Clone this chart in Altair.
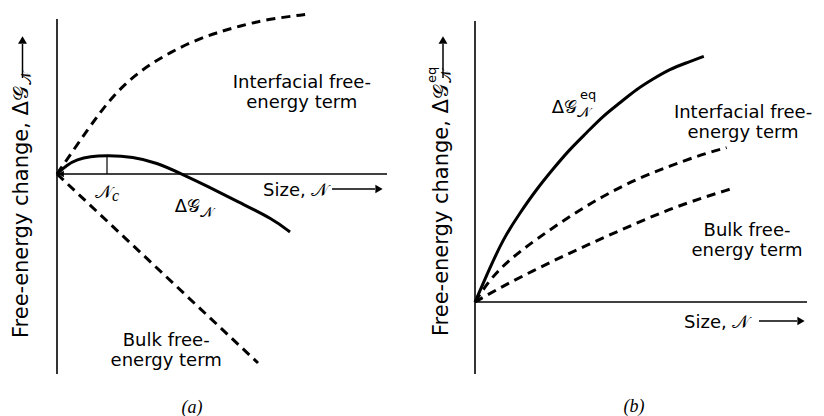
import altair as alt
import pandas as pd

# ---------------- Panel (a): nucleation (units: size, free energy) ----------------
a_interf_x = [0, 0.367, 0.742, 1.075, 1.408, 1.825, 2.325, 2.825, 3.408, 3.992, 4.575, 5.242, 6.242]
a_interf_y = [0, 0.533, 1.075, 1.533, 1.95, 2.367, 2.742, 3.033, 3.325, 3.533, 3.7, 3.867, 3.992]
a_bulk_x = [0, 5.025]
a_bulk_y = [0, -4.725]
a_total_x = [0, 0.25, 0.5, 0.825, 1.25, 1.9, 2.5, 3.075, 3.75, 4.575, 5.4, 5.825]
a_total_y = [0, 0.23, 0.36, 0.44, 0.465, 0.43, 0.28, 0.02, -0.3, -0.72, -1.125, -1.45]
a_nc = 1.25

# ---------------- Panel (b): equilibrium ----------------
b_total_x = [0, 0.29, 0.7, 1.125, 1.54, 1.95, 2.375, 2.79, 3.2, 3.625, 4.04, 4.45, 4.875, 5.29, 5.72]
b_total_y = [0, 0.67, 1.575, 2.23, 2.82, 3.325, 3.825, 4.23, 4.65, 4.98, 5.32, 5.575, 5.825, 5.98, 6.14]
b_interf_x = [0, 0.375, 0.875, 1.54, 2.375, 3.2, 4.04, 4.875, 5.7, 6.29]
b_interf_y = [0, 0.575, 1.075, 1.575, 2.15, 2.65, 3.075, 3.4, 3.7, 3.86]
b_bulk_x = [0, 0.7, 1.54, 2.375, 3.2, 4.04, 4.875, 5.7, 6.375]
b_bulk_y = [0, 0.4, 0.825, 1.23, 1.6, 1.975, 2.325, 2.61, 2.82]

# text
y_title = "Free-energy change, Δ𝒢"
sub_N = "𝒩"
x_title = "Size, 𝒩"
interf_label = "Interfacial free-\nenergy term"
bulk_label = "Bulk free-\nenergy term"
dG = "Δ𝒢"
sup_eq = "eq"
sub_c = "c"
panel_labels = ["(a)", "(b)"]

# layout of each panel (data-unit windows)
A_X = [-1.225, 8.775]
A_Y = [-6.0, 4.0]
B_X = [-1.675, 8.525]
B_Y = [-2.8, 7.2]
PW_A, PW_B, PH = 400, 408, 400

SANS = "DejaVu Sans"
SERIF = "Liberation Serif"


def enc(xd, yd):
    return dict(
        x=alt.X("x:Q", scale=alt.Scale(domain=xd, nice=False, zero=False), axis=None),
        y=alt.Y("y:Q", scale=alt.Scale(domain=yd, nice=False, zero=False), axis=None),
    )


def curve(xs, ys, xd, yd, dash=None, width=3.0):
    df = pd.DataFrame({"x": xs, "y": ys, "i": range(len(xs))})
    kw = dict(color="black", strokeWidth=width, interpolate="basis")
    if dash:
        kw["strokeDash"] = dash
    return alt.Chart(df).mark_line(**kw).encode(order="i:Q", **enc(xd, yd))


def seg(x1, y1, x2, y2, xd, yd, width=1.6):
    df = pd.DataFrame({"x": [x1], "y": [y1], "x2": [x2], "y2": [y2]})
    return alt.Chart(df).mark_rule(color="black", strokeWidth=width).encode(
        x2="x2:Q", y2="y2:Q", **enc(xd, yd))


def pt(x, y, shape, size, xd, yd):
    df = pd.DataFrame({"x": [x], "y": [y]})
    return alt.Chart(df).mark_point(shape=shape, size=size, filled=True, color="black",
                                    opacity=1, strokeWidth=0).encode(**enc(xd, yd))


def txt(x, y, t, xd, yd, size=18, align="left", angle=0, font=SANS, style="normal",
        baseline="alphabetic", line_height=None):
    df = pd.DataFrame({"x": [x], "y": [y], "t": [t]})
    kw = dict(align=align, baseline=baseline, fontSize=size, font=font, color="black",
              fontStyle=style)
    if angle:
        kw["angle"] = angle
    if line_height:
        kw["lineBreak"] = "\n"
        kw["lineHeight"] = line_height
    return alt.Chart(df).mark_text(**kw).encode(text="t:N", **enc(xd, yd))


# ---------------- build panel (a) ----------------
xa, ya = A_X, A_Y
pa = [
    seg(0, 3.875, 0, -5.0, xa, ya),
    seg(0, 0, 8.25, 0, xa, ya),
    curve(a_interf_x, a_interf_y, xa, ya, dash=[9, 6]),
    curve(a_bulk_x, a_bulk_y, xa, ya, dash=[9, 6]),
    curve(a_total_x, a_total_y, xa, ya),
    seg(a_nc, 0, a_nc, 0.465, xa, ya, width=1.2),
    pt(0.1, 0, "triangle-left", 45, xa, ya),
    txt(6.12, 2.15, interf_label, xa, ya, align="center", line_height=19.5),
    txt(2.73, -4.3, bulk_label, xa, ya, align="center", line_height=19.5),
    txt(5.15, -0.55, x_title, xa, ya),
    seg(6.875, -0.375, 7.95, -0.375, xa, ya, width=1.5),
    pt(8.05, -0.375, "triangle-right", 70, xa, ya),
    txt(3.575, -0.95, dG, xa, ya, align="right"),
    txt(3.575, -1.075, sub_N, xa, ya, size=14),
    txt(1.375, -0.6, sub_N, xa, ya, align="right"),
    txt(1.375, -0.675, sub_c, xa, ya, size=16, font=SERIF, style="italic"),
    txt(3.375, -5.85, panel_labels[0], xa, ya, size=18, align="center", font=SERIF,
        style="italic", baseline="middle"),
    txt(-0.725, 2.2, y_title, xa, ya, size=21, align="right", angle=270),
    txt(-0.65, 2.225, sub_N, xa, ya, size=14, angle=270),
    seg(-0.8625, 2.4, -0.8625, 3.25, xa, ya, width=1.5),
    pt(-0.8625, 3.35, "triangle-up", 80, xa, ya),
]
panel_a = alt.layer(*pa).properties(width=PW_A, height=PH)

# ---------------- build panel (b) ----------------
xb, yb = B_X, B_Y
pb = [
    seg(0, 7.025, 0, -1.8, xb, yb),
    seg(0, 0, 8.3, 0, xb, yb),
    curve(b_interf_x, b_interf_y, xb, yb, dash=[9, 6]),
    curve(b_bulk_x, b_bulk_y, xb, yb, dash=[9, 6]),
    curve(b_total_x, b_total_y, xb, yb),
    pt(0.05, 0.08, "triangle-up", 40, xb, yb),
    txt(6.7, 4.6, interf_label, xb, yb, align="center", line_height=19.5),
    txt(6.8, 1.65, bulk_label, xb, yb, align="center", line_height=20),
    txt(5.225, -0.65, x_title, xb, yb),
    seg(7.1, -0.475, 8.05, -0.475, xb, yb, width=1.5),
    pt(8.15, -0.475, "triangle-right", 70, xb, yb),
    txt(2.55, 4.725, dG, xb, yb, align="right"),
    txt(2.55, 4.625, sub_N, xb, yb, size=14),
    txt(2.625, 5.075, sup_eq, xb, yb, size=13),
    txt(3.975, -2.625, panel_labels[1], xb, yb, size=18, align="center", font=SERIF,
        style="italic", baseline="middle"),
    txt(-0.675, 5.45, y_title, xb, yb, size=21, align="right", angle=270),
    txt(-0.6, 5.475, sub_N, xb, yb, size=14, angle=270),
    txt(-0.975, 5.475, sup_eq, xb, yb, size=13, angle=270),
    seg(-0.8, 5.6, -0.8, 6.45, xb, yb, width=1.5),
    pt(-0.8, 6.55, "triangle-up", 80, xb, yb),
]
panel_b = alt.layer(*pb).properties(width=PW_B, height=PH)

chart = alt.hconcat(panel_a, panel_b, spacing=0).properties(
    padding=0, bounds="flush"
).configure_view(stroke=None)

chart.save("out.html", embed_options={"renderer": "svg", "actions": False})
